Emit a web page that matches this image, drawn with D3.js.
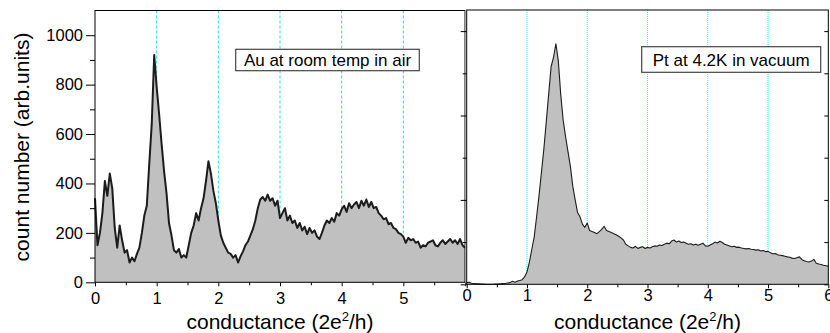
<!DOCTYPE html>
<html><head><meta charset="utf-8">
<script src="https://cdn.jsdelivr.net/npm/d3@7"></script>
<style>
body{margin:0;background:#fff}
svg{display:block}
text{font-family:"Liberation Sans",Arial,Helvetica,sans-serif;fill:#000}
</style>
</head><body>
<svg id="c" width="830" height="333"></svg>
<script>
// ---- data ----
const binWidth = 0.04; // conductance step between histogram bins (2e^2/h)
const auCounts = [
 340,150,200,280,410,350,440,380,220,140,230,170,120,130,80,100,85,115,140,200,
 270,310,480,640,920,790,680,560,450,360,240,190,130,120,135,100,110,100,150,200,
 230,280,250,300,340,410,490,440,370,320,250,190,160,140,120,115,100,110,80,105,
 125,150,165,190,215,250,300,335,345,330,355,330,340,310,330,260,280,300,250,270,
 240,250,220,240,210,225,195,220,200,210,185,175,200,230,250,240,260,245,280,270,
 295,310,285,320,300,315,325,300,330,310,335,305,325,300,305,280,270,255,260,235,
 240,220,215,200,195,185,160,180,170,175,160,165,140,150,145,160,165,170,150,145,
 160,170,155,165,175,160,170,155,175,150,140
];
const ptCounts = [
 8,10,5,3,2,2,1,1,0,0,0,0,1,1,2,3,4,6,8,14,
 10,15,18,22,35,58,105,165,225,320,420,530,640,770,900,1030,1075,1140,1060,900,
 780,700,630,560,465,400,340,320,285,270,290,255,250,245,240,250,260,275,255,250,
 245,240,235,228,220,210,190,182,175,172,180,170,175,178,170,175,172,178,182,180,
 186,184,190,195,192,205,210,200,205,198,200,195,190,192,186,190,185,190,195,182,
 180,186,192,200,196,204,198,190,186,182,178,180,175,176,172,170,168,170,166,165,
 162,164,158,160,155,156,150,145,146,140,138,136,133,130,128,124,122,126,130,118,
 112,108,106,110,118,100,96,94,90,88,86
];
const xTicks = [0,1,2,3,4,5,6];
const xMinorTicks = [0.5,1.5,2.5,3.5,4.5,5.5];
const gridPositions = [1,2,3,4,5];
const auYTicks = [0,200,400,600,800,1000];
const auYMinorTicks = [100,300,500,700,900];
const ptYTicks = [0,400,800,1200];
const ptYMinorTicks = [200,600,1000];
const panelLabels = ["Au at room temp in air","Pt at 4.2K in vacuum"];
const xTitle = "conductance";
const yTitle = "count number (arb.units)";

const svg = d3.select("#c");

function toPoints(arr){ return arr.map((v,i)=>({g:i*binWidth, v})); }

function drawPanel(o){
  const x = d3.scaleLinear().domain([0,6]).range([o.x0,o.x1]);
  const y = d3.scaleLinear().domain([0,o.ymax]).range([o.yb,o.yt]);
  const g = svg.append("g");
  if (o.whiteBg) g.append("rect").attr("x",o.x0-1).attr("y",0).attr("width",830-o.x0+1).attr("height",333).attr("fill","#fff");
  // cyan grid
  g.selectAll(".grid").data(gridPositions).join("line")
    .attr("x1",d=>x(d)).attr("x2",d=>x(d)).attr("y1",o.yt).attr("y2",o.yb)
    .attr("stroke",o.gridColor).attr("stroke-width",o.gridW).attr("stroke-dasharray",o.gridDash);
  const pts = toPoints(o.data);
  const area = d3.area().x(d=>x(d.g)).y0(y(0)).y1(d=>y(d.v));
  const line = d3.line().x(d=>x(d.g)).y(d=>y(d.v));
  g.append("path").attr("d",area(pts)).attr("fill","#c0c0c0");
  g.append("path").attr("d",line(pts)).attr("fill","none").attr("stroke","#1c1c1c")
    .attr("stroke-width",o.lineW).attr("stroke-linejoin","round");
  // frame
  g.append("rect").attr("x",o.x0).attr("y",o.yt).attr("width",o.x1-o.x0).attr("height",o.yb-o.yt)
    .attr("fill","none").attr("stroke","#000").attr("stroke-width",1);
  // bottom axis
  const bx = d3.axisBottom(x).tickValues(xTicks).tickSize(4).tickPadding(o.xPad).tickFormat(d3.format("d"));
  const ax = g.append("g").attr("transform",`translate(0,${o.yb})`).call(bx);
  ax.select(".domain").remove();
  ax.selectAll("text").attr("font-size",16.5).attr("font-family","Liberation Sans, Arial, sans-serif");
  if (o.hideLast) ax.selectAll(".tick").filter(d=>d===6).select("text").remove();
  const bxm = d3.axisBottom(x).tickValues(xMinorTicks).tickSize(3).tickFormat("");
  const axm = g.append("g").attr("transform",`translate(0,${o.yb})`).call(bxm);
  axm.select(".domain").remove();
  // left axis
  const ly = d3.axisLeft(y).tickValues(o.yTicks).tickSize(o.majorLen).tickPadding(3)
    .tickFormat(o.showYLabels ? d3.format("d") : "");
  const ay = g.append("g").attr("transform",`translate(${o.x0},0)`).call(ly);
  ay.select(".domain").remove();
  ay.selectAll("text").attr("font-size",16.5).attr("font-family","Liberation Sans, Arial, sans-serif");
  const lym = d3.axisLeft(y).tickValues(o.yMinor).tickSize(o.minorLen).tickFormat("");
  const aym = g.append("g").attr("transform",`translate(${o.x0},0)`).call(lym);
  aym.select(".domain").remove();
  if (o.rightTicks){
    const ry = d3.axisLeft(y).tickValues(o.yTicks.concat(o.yMinor)).tickSize(4).tickFormat("");
    const ar = g.append("g").attr("transform",`translate(${o.x1},0)`).call(ry);
    ar.select(".domain").remove();
  }
  // x title
  const t = g.append("text").attr("x",(o.x0+o.x1)/2).attr("y",o.titleY).attr("text-anchor","middle").attr("font-size",21);
  t.append("tspan").text(xTitle+" (2e");
  t.append("tspan").attr("font-size",13).attr("dy",-8).text("2");
  t.append("tspan").attr("dy",8).text("/h)");
  // label box
  g.append("rect").attr("x",o.box[0]).attr("y",o.box[1]).attr("width",o.box[2]).attr("height",o.box[3])
    .attr("fill","#fff").attr("stroke","#444").attr("stroke-width",1.2);
  g.append("text").attr("x",o.box[0]+o.box[2]/2).attr("y",o.box[1]+o.box[3]/2+6)
    .attr("text-anchor","middle").attr("font-size",17).text(o.label);
}

drawPanel({x0:95,x1:465,yt:10.5,yb:282.3,ymax:1100,data:auCounts,lineW:2,
  gridColor:"#22e0f0",gridW:1,gridDash:"3,2",yTicks:auYTicks,yMinor:auYMinorTicks,
  majorLen:9,minorLen:5,showYLabels:true,xPad:6,titleY:329,hideLast:true,
  box:[235.7,49.3,183.6,21.4],label:panelLabels[0]});

drawPanel({x0:466.7,x1:828.3,yt:10,yb:284.3,ymax:1300,data:ptCounts,lineW:1.1,whiteBg:true,
  gridColor:"#44e4f4",gridW:1,gridDash:"1,1",yTicks:ptYTicks,yMinor:ptYMinorTicks,
  majorLen:6,minorLen:4,showYLabels:false,xPad:1,titleY:329,rightTicks:true,
  box:[641.7,46.7,179,25.6],label:panelLabels[1]});

// y title
svg.append("text").attr("transform","translate(29,147) rotate(-90)").attr("text-anchor","middle")
  .attr("font-size",21).text(yTitle);
</script>
</body></html>
